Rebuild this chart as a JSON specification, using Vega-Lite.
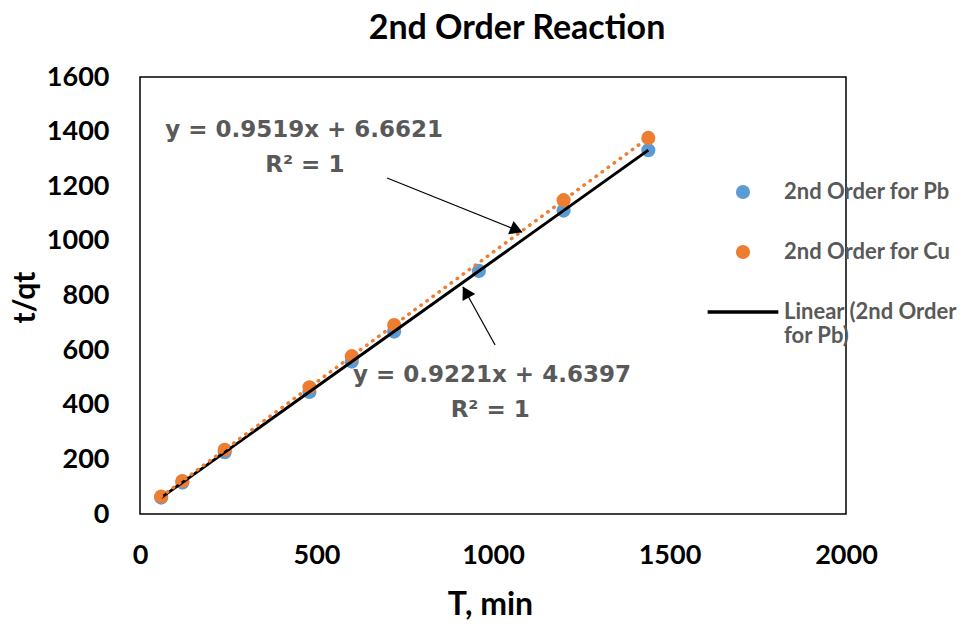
{
  "$schema": "https://vega.github.io/schema/vega-lite/v6.json",
  "width": 706,
  "height": 437,
  "autosize": {"type": "none"},
  "padding": {"left": 140, "top": 77, "right": 115, "bottom": 112},
  "background": "white",
  "title": {"text": "2nd Order Reaction", "font": "Lato", "fontSize": 34, "fontWeight": "bold", "color": "#000000", "anchor": "middle", "dx": 24, "offset": 17},
  "config": {
    "view": {"stroke": "#000000", "strokeWidth": 1.5},
    "axis": {"grid": false, "ticks": false, "domain": false, "labelFlush": false, "labelFont": "Lato", "labelFontSize": 27, "labelFontWeight": "bold", "labelColor": "#000000", "titleFont": "Lato", "titleFontWeight": "bold", "titleColor": "#000000", "format": "d"},
    "legend": {
      "orient": "none", "legendX": 592, "legendY": 104, "padding": 0, "title": null,
      "labelFont": "Lato", "labelFontSize": 22, "labelFontWeight": "bold", "labelColor": "#595959",
      "symbolSize": 200, "labelOffset": 30, "rowPadding": 38, "labelLimit": 400, "symbolStrokeWidth": 0
    }
  },
  "datasets": {
    "points": [
      {"series": "2nd Order for Pb", "x": 60, "y": 60},
      {"series": "2nd Order for Pb", "x": 120, "y": 115},
      {"series": "2nd Order for Pb", "x": 240, "y": 226},
      {"series": "2nd Order for Pb", "x": 480, "y": 447},
      {"series": "2nd Order for Pb", "x": 600, "y": 558},
      {"series": "2nd Order for Pb", "x": 720, "y": 668},
      {"series": "2nd Order for Pb", "x": 960, "y": 890},
      {"series": "2nd Order for Pb", "x": 1200, "y": 1111},
      {"series": "2nd Order for Pb", "x": 1440, "y": 1332},
      {"series": "2nd Order for Cu", "x": 60, "y": 64},
      {"series": "2nd Order for Cu", "x": 120, "y": 121},
      {"series": "2nd Order for Cu", "x": 240, "y": 235},
      {"series": "2nd Order for Cu", "x": 480, "y": 464},
      {"series": "2nd Order for Cu", "x": 600, "y": 578},
      {"series": "2nd Order for Cu", "x": 720, "y": 692},
      {"series": "2nd Order for Cu", "x": 1200, "y": 1149},
      {"series": "2nd Order for Cu", "x": 1440, "y": 1377}
    ],
    "notes": [
      {"text": "y = 0.9519x + 6.6621", "x": 465, "y": 1380},
      {"text": "R² = 1", "x": 467, "y": 1252},
      {"text": "y = 0.9221x + 4.6397", "x": 997, "y": 483},
      {"text": "R² = 1", "x": 992, "y": 355}
    ],
    "arrows": [
      {"id": "a", "x": 700, "y": 1230, "x2": 1082, "y2": 1032, "hx": 1067, "hy": 1040},
      {"id": "b", "x": 1006, "y": 619, "x2": 915, "y2": 831, "hx": 923, "hy": 813}
    ]
  },
  "encoding": {
    "x": {"field": "x", "type": "quantitative", "scale": {"domain": [0, 2000], "nice": false, "zero": false},
      "axis": {"values": [0, 500, 1000, 1500, 2000], "labelPadding": 28, "title": "T, min", "titleFontSize": 32, "titleX": 350, "titleY": 90, "titleBaseline": "middle", "titleAnchor": "middle"}},
    "y": {"field": "y", "type": "quantitative", "scale": {"domain": [0, 1600], "nice": false, "zero": false},
      "axis": {"values": [0, 200, 400, 600, 800, 1000, 1200, 1400, 1600], "labelPadding": 31, "title": "t/qt", "titleFontSize": 30, "titleX": -115, "titleY": 220, "titleBaseline": "middle", "titleAnchor": "middle", "titleAngle": -90}}
  },
  "layer": [
    {
      "data": {"name": "points"},
      "transform": [{"filter": "datum.series === '2nd Order for Pb'"}],
      "mark": {"type": "point", "filled": true, "opacity": 1, "size": 200},
      "encoding": {
        "color": {"field": "series", "type": "nominal", "scale": {"domain": ["2nd Order for Pb", "2nd Order for Cu", "Linear (2nd Order for Pb)"], "range": ["#5b9bd5", "#ed7d31", "#000000"]},
          "legend": {
            "labelExpr": "datum.label === 'Linear (2nd Order for Pb)' ? ['Linear (2nd Order', 'for Pb)'] : datum.label",
            "labelLineHeight": 29
          }},
        "shape": {"field": "series", "type": "nominal", "scale": {"domain": ["2nd Order for Pb", "2nd Order for Cu", "Linear (2nd Order for Pb)"], "range": ["circle", "circle", "M-5,-0.26H5V0.26H-5Z"]}}
      }
    },
    {
      "data": {"name": "points"},
      "transform": [{"filter": "datum.series === '2nd Order for Cu'"}],
      "mark": {"type": "point", "filled": true, "opacity": 1, "size": 200},
      "encoding": {
        "color": {"field": "series", "type": "nominal"},
        "shape": {"field": "series", "type": "nominal"}
      }
    },
    {
      "data": {"name": "points"},
      "transform": [{"filter": "datum.series === '2nd Order for Pb'"}, {"regression": "y", "on": "x"}],
      "mark": {"type": "line", "color": "#000000", "strokeWidth": 3},
      "encoding": {}
    },
    {
      "data": {"name": "points"},
      "transform": [{"filter": "datum.series === '2nd Order for Cu'"}, {"regression": "y", "on": "x"}],
      "mark": {"type": "line", "color": "#ed7d31", "strokeWidth": 3.5, "strokeDash": [0.5, 7], "strokeCap": "round"},
      "encoding": {}
    },
    {
      "data": {"name": "arrows"},
      "mark": {"type": "rule", "color": "#000000", "strokeWidth": 1.2},
      "encoding": {"x2": {"field": "x2"}, "y2": {"field": "y2"}}
    },
    {
      "data": {"name": "arrows"},
      "transform": [{"filter": "datum.id === 'a'"}],
      "mark": {"type": "point", "shape": "triangle-up", "filled": true, "color": "#000000", "opacity": 1, "size": 210, "angle": 112},
      "encoding": {"x": {"field": "hx", "type": "quantitative"}, "y": {"field": "hy", "type": "quantitative"}}
    },
    {
      "data": {"name": "arrows"},
      "transform": [{"filter": "datum.id === 'b'"}],
      "mark": {"type": "point", "shape": "triangle-up", "filled": true, "color": "#000000", "opacity": 1, "size": 210, "angle": 331},
      "encoding": {"x": {"field": "hx", "type": "quantitative"}, "y": {"field": "hy", "type": "quantitative"}}
    },
    {
      "data": {"name": "notes"},
      "mark": {"type": "text", "font": "DejaVu Sans", "fontSize": 23, "fontWeight": "bold", "color": "#595959", "align": "center", "baseline": "alphabetic"},
      "encoding": {"text": {"field": "text"}}
    }
  ]
}
